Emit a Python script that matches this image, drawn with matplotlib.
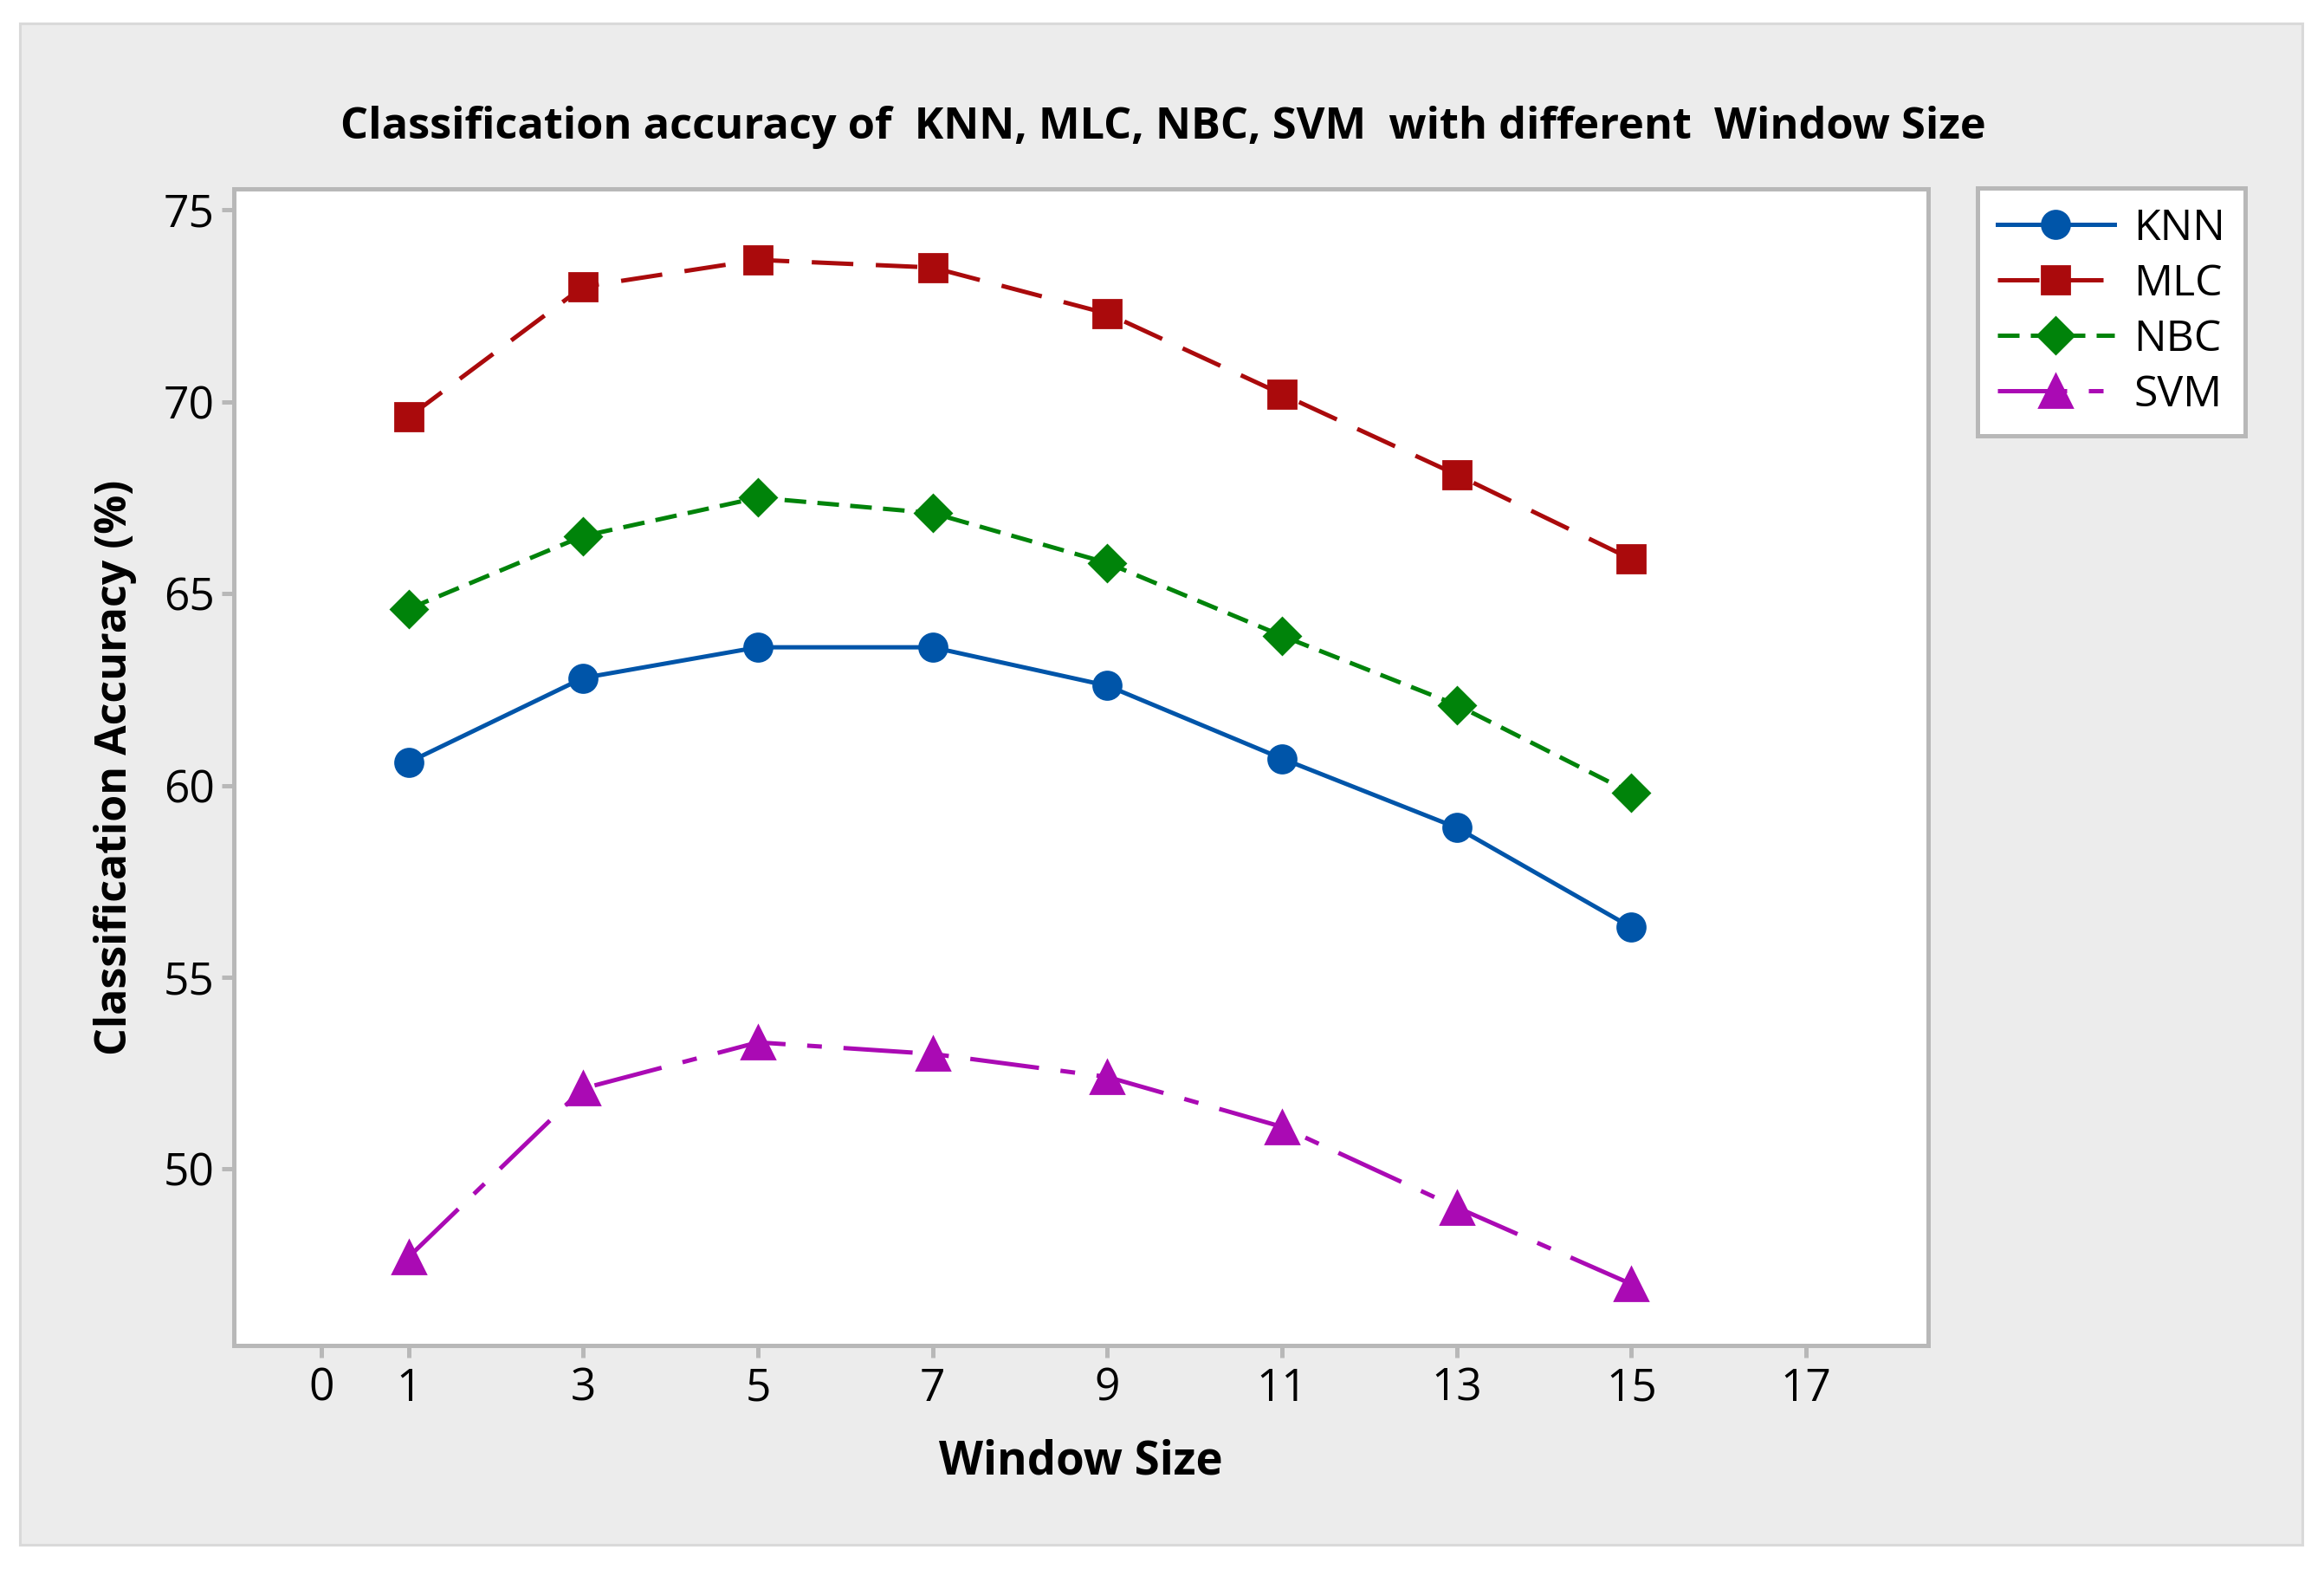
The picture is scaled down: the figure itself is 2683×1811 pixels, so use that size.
import matplotlib
matplotlib.use('Agg')
import matplotlib.pyplot as plt
from matplotlib.patches import Rectangle

# window sizes and accuracies (%)
window_sizes = [1, 3, 5, 7, 9, 11, 13, 15]
knn = [60.6, 62.8, 63.6, 63.6, 62.6, 60.7, 58.9, 56.3]
mlc = [69.6, 73.0, 73.7, 73.5, 72.3, 70.2, 68.1, 65.9]
nbc = [64.6, 66.5, 67.5, 67.1, 65.8, 63.9, 62.1, 59.8]
svm = [47.7, 52.1, 53.3, 53.0, 52.4, 51.1, 49.0, 47.0]

x_ticks = [0, 1, 3, 5, 7, 9, 11, 13, 15, 17]
y_ticks = [50, 55, 60, 65, 70, 75]

plt.rcParams['font.family'] = ['Open Sans', 'DejaVu Sans']

fig = plt.figure(figsize=(13.415, 9.055), dpi=200)
fig.patch.set_facecolor('white')

# grey panel behind the chart
panel = Rectangle((0.0086, 0.0155), 0.9821, 0.9696, transform=fig.transFigure,
                  facecolor='#ececec', edgecolor='#d9d9d9', linewidth=1.1, zorder=-10)
fig.add_artist(panel)

ax = fig.add_axes([0.1006, 0.1425, 0.7291, 0.7371])
ax.set_zorder(1)
ax.set_facecolor('white')

border = '#b8b8b8'
lw = 1.8
ax.plot(window_sizes, knn, color='#0055a9', linestyle='-', linewidth=lw,
        marker='o', markersize=11.5, label='KNN')
ax.plot(window_sizes, mlc, color='#aa0a0c', linestyle=(0, (9.6, 5.2)), linewidth=lw,
        marker='s', markersize=11.5, label='MLC')
ax.plot(window_sizes, nbc, color='#00830a', linestyle=(0, (5.0, 2.6)), linewidth=lw,
        marker='D', markersize=10.5, label='NBC')
ax.plot(window_sizes, svm, color='#aa0ab4', linestyle=(0, (16, 5, 3.4, 5)), linewidth=lw,
        marker='^', markersize=13.5, label='SVM')

ax.set_xlim(-1.0, 18.4)
ax.set_ylim(45.4, 75.55)
ax.set_xticks(x_ticks)
ax.set_yticks(y_ticks)

for s in ax.spines.values():
    s.set_color(border)
    s.set_linewidth(1.8)
ax.tick_params(axis='both', colors=border, width=1.8, length=5, labelsize=18.5,
               labelcolor='black')
ax.tick_params(axis='x', pad=4)
ax.tick_params(axis='y', pad=3)

fig.text(0.5006, 0.9187, 'Classification accuracy of  KNN, MLC, NBC, SVM  with different  Window Size',
         ha='center', va='center', fontsize=18.2, fontweight='bold')
ax.set_xlabel('Window Size', fontsize=19, fontweight='bold', labelpad=11.5)
ax.set_ylabel('Classification Accuracy (%)', fontsize=18, fontweight='bold', labelpad=11)

leg = fig.legend(loc='upper left', bbox_to_anchor=(0.851, 0.8802), borderaxespad=0,
                 fontsize=18, frameon=True, fancybox=False, handlelength=2.7,
                 handletextpad=0.45, labelspacing=0.29, borderpad=0.45, numpoints=1)
leg.get_frame().set_edgecolor(border)
leg.get_frame().set_linewidth(1.8)
leg.get_frame().set_facecolor('white')
leg.get_frame().set_alpha(1)

fig.savefig('out.png', dpi=200)
